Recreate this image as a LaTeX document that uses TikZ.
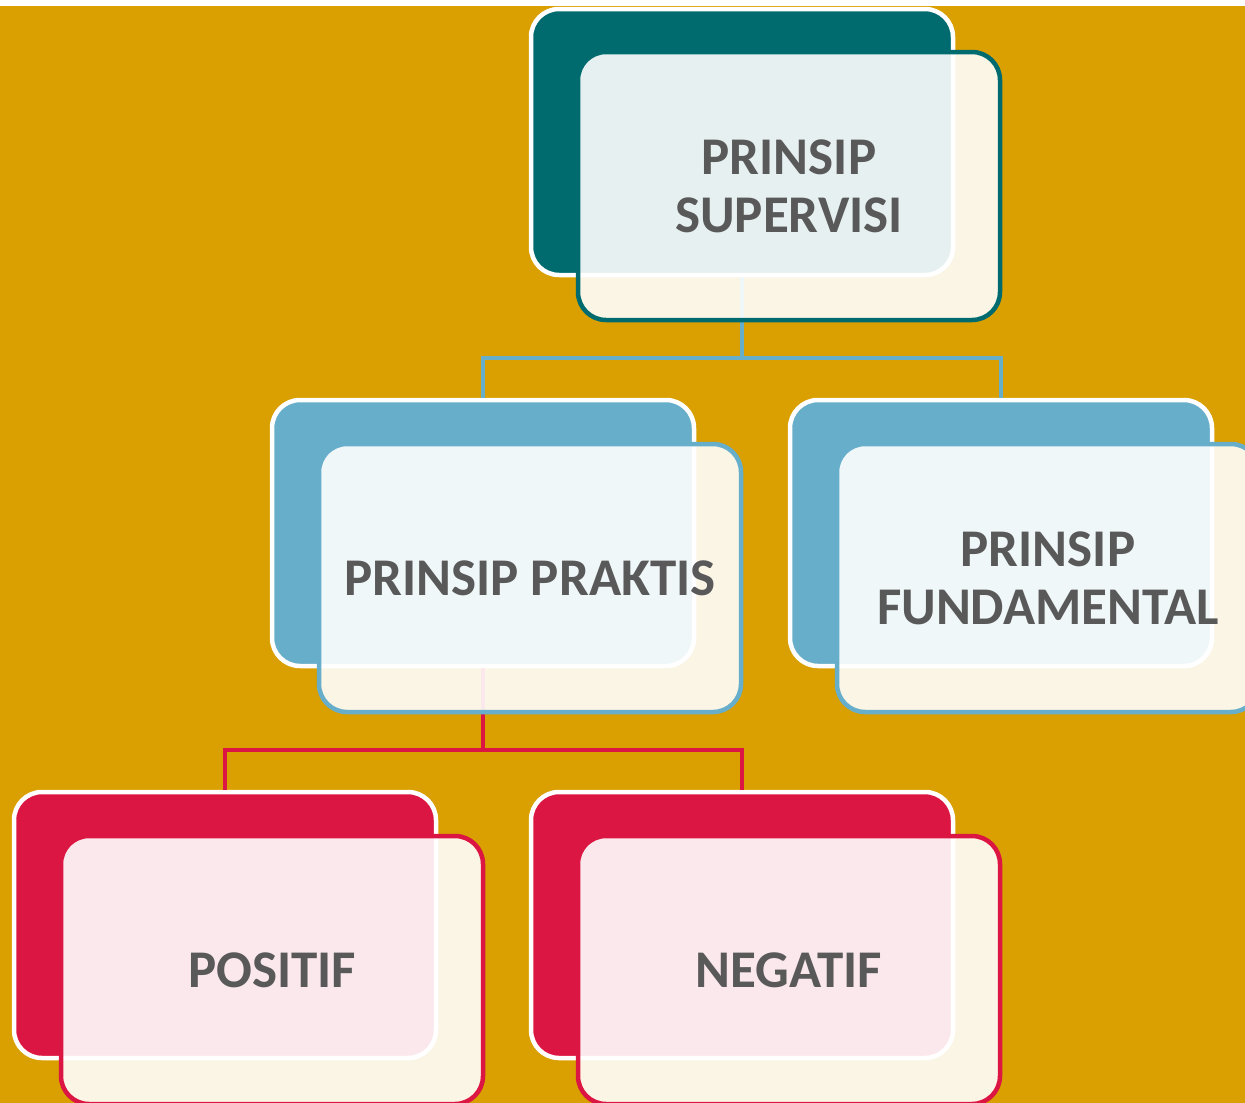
\documentclass[tikz,border=0pt]{standalone}
\usepackage{fontspec}
\setmainfont{Carlito}
\definecolor{gold}{HTML}{DA9F00}
\definecolor{teal1}{HTML}{006B6F}
\definecolor{blue1}{HTML}{67AECB}
\definecolor{red1}{HTML}{DC1642}
\definecolor{txt}{HTML}{595959}
\tikzset{
  backbox/.style={rectangle, rounded corners=28pt, draw=white, line width=4.5pt,
    minimum width=422pt, minimum height=266pt, inner sep=0pt},
  frontbox/.style={rectangle, rounded corners=28pt, line width=4.5pt, fill=white,
    fill opacity=0.9, text opacity=1, minimum width=422pt, minimum height=268pt,
    inner sep=0pt, align=center, text=txt,
    font=\fontsize{53pt}{58pt}\selectfont\bfseries},
  conn/.style={line width=4.5pt, line join=miter}
}
\begin{document}
\begin{tikzpicture}[x=1pt,y=-1pt]
\useasboundingbox (0,0) rectangle (1245,1103);
\clip (0,0) rectangle (1245,1103);
\fill[white] (0,0) rectangle (1245,1103);
\fill[gold] (0,6) rectangle (1245,1103);
% back boxes
\node[backbox, fill=teal1] (b1) at (742,142) {};
\node[backbox, fill=blue1] (b2) at (483,533) {};
\node[backbox, fill=blue1] (b3) at (1001,533) {};
\node[backbox, fill=red1] (b4) at (225,925) {};
\node[backbox, fill=red1] (b5) at (742,925) {};
% connectors
\coordinate (j1) at (742,358);
\coordinate (j2) at (483,750);
\draw[conn, blue1] (b1.south) -- (j1);
\draw[conn, blue1] (b2.north) |- (j1) -| (b3.north);
\draw[conn, red1] (b2.south) -- (j2);
\draw[conn, red1] (b4.north) |- (j2) -| (b5.north);
% front boxes
\node[frontbox, draw=teal1] (f1) at (789,186) {PRINSIP\\SUPERVISI};
\node[frontbox, draw=blue1] (f2) at (530,578) {PRINSIP PRAKTIS};
\node[frontbox, draw=blue1] (f3) at (1048,578) {PRINSIP\\FUNDAMENTAL};
\node[frontbox, draw=red1] (f4) at (272,970) {POSITIF};
\node[frontbox, draw=red1] (f5) at (789,970) {NEGATIF};
\end{tikzpicture}
\end{document}
